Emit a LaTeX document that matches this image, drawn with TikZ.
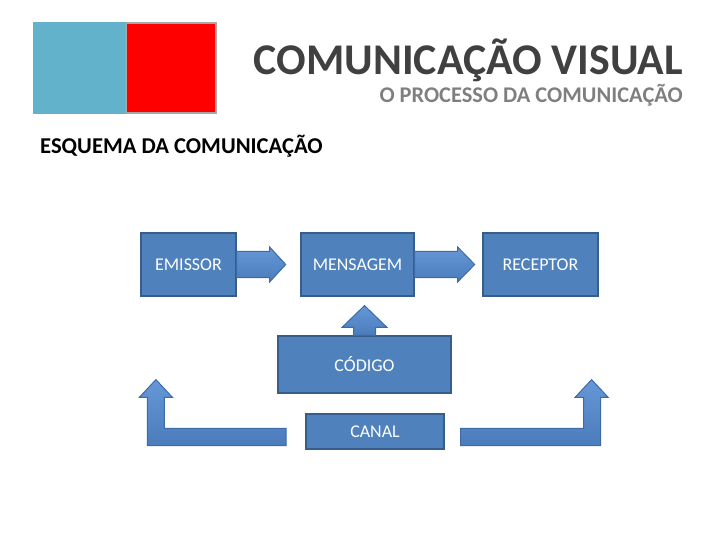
\documentclass[tikz,border=0pt]{standalone}
\usepackage{fontspec}
\setmainfont{Carlito}
\usepackage{xcolor}
\usetikzlibrary{calc}
\usetikzlibrary{positioning}

\definecolor{boxfill}{HTML}{4F81BD}
\definecolor{boxline}{HTML}{385D8A}
\definecolor{arrowtop}{HTML}{6698D8}
\definecolor{arrowbot}{HTML}{4A7BBB}
\definecolor{arrowline}{HTML}{3C6BA6}
\definecolor{squareblue}{HTML}{63B2CC}
\definecolor{titlegray}{HTML}{404040}
\definecolor{subgray}{HTML}{7F7F7F}

\tikzset{
	blocknode/.style={draw=boxline, fill=boxfill, line width=1.2bp, text=white,
		inner sep=0pt, font=\fontsize{18}{20}\selectfont},
	blockarrow/.style={draw=arrowline, line width=1bp, top color=arrowtop,
		bottom color=arrowbot, line join=miter},
}

\begin{document}
\begin{tikzpicture}[x=1bp, y=-1bp]
				
				\useasboundingbox (0,0) rectangle (728,546);
				
				% top left squares
				\fill[squareblue] (33,22) rectangle (126,114);
				\draw[fill=red, draw=gray!70, line width=1.5bp] (126,23) rectangle (216,113);
				
				\node[anchor=base east, text=titlegray, font=\bfseries\fontsize{44}{50}\selectfont, inner sep=0pt] (title) at (683,75) {COMUNICAÇÃO VISUAL};
				\node[anchor=base east, text=subgray, font=\bfseries\fontsize{22.5}{24}\selectfont, inner sep=0pt] (subtitle) at (683,103) {O PROCESSO DA COMUNICAÇÃO};
				\node[anchor=base west, text=black, font=\bfseries\fontsize{22.7}{24}\selectfont, inner sep=0pt] (esquema) at (40,154) {ESQUEMA DA COMUNICAÇÃO};
				
				% boxes
				\node[blocknode, minimum width=95bp, minimum height=63bp] (emissor) at (188.5,264.5) {EMISSOR};
				\node[blocknode, minimum width=113bp, minimum height=63bp] (mensagem) at (357.5,264.5) {MENSAGEM};
				\node[blocknode, minimum width=115bp, minimum height=63bp] (receptor) at (540.5,264.5) {RECEPTOR};
				\node[blocknode, minimum width=173bp, minimum height=57bp] (codigo) at (364.5,364.5) {CÓDIGO};
				\node[blocknode, minimum width=138bp, minimum height=35bp] (canal) at (375,431.5) {CANAL};
				
				% block arrows
				\draw[blockarrow] ($(emissor.east)+(0,-13)$) -- ++(33,0) -- ++(0,-4.5)
					-- ($(mensagem.west)+(-14.7,0)$) -- ($(emissor.east)+(33,17.5)$)
					-- ++(0,-4.5) -- ($(emissor.east)+(0,13)$) -- cycle;
				\draw[blockarrow] ($(mensagem.east)+(0,-13)$) -- ++(43,0) -- ++(0,-4.5)
					-- ($(receptor.west)+(-7.7,0)$) -- ($(mensagem.east)+(43,17.5)$)
					-- ++(0,-4.5) -- ($(mensagem.east)+(0,13)$) -- cycle;
				\draw[blockarrow] ($(codigo.north)+(-11,0)$) -- ++(0,-8) -- ++(-11.5,0)
					-- ($(mensagem.south)+(7,9)$) -- ($(codigo.north)+(22.5,-8)$)
					-- ++(-11.5,0) -- ($(codigo.north)+(11,0)$) -- cycle;
				
				\draw[blockarrow] ($(canal.south west)+(-19.3,-4)$) -- ++(-138.7,0) -- ++(0,-48.3)
					-- ++(-8,0) -- ++(16.5,-17.7) -- ++(16.5,17.7) -- ++(-8,0)
					-- ++(0,31) -- ++(121.7,0) -- cycle;
				\draw[blockarrow] ($(canal.south east)+(16,-4)$) -- ++(140,0) -- ++(0,-48.3)
					-- ++(7.5,0) -- ++(-16.5,-17.7) -- ++(-16.5,17.7) -- ++(8.5,0)
					-- ++(0,31) -- ++(-123,0) -- cycle;
				
\end{tikzpicture}
\end{document}
